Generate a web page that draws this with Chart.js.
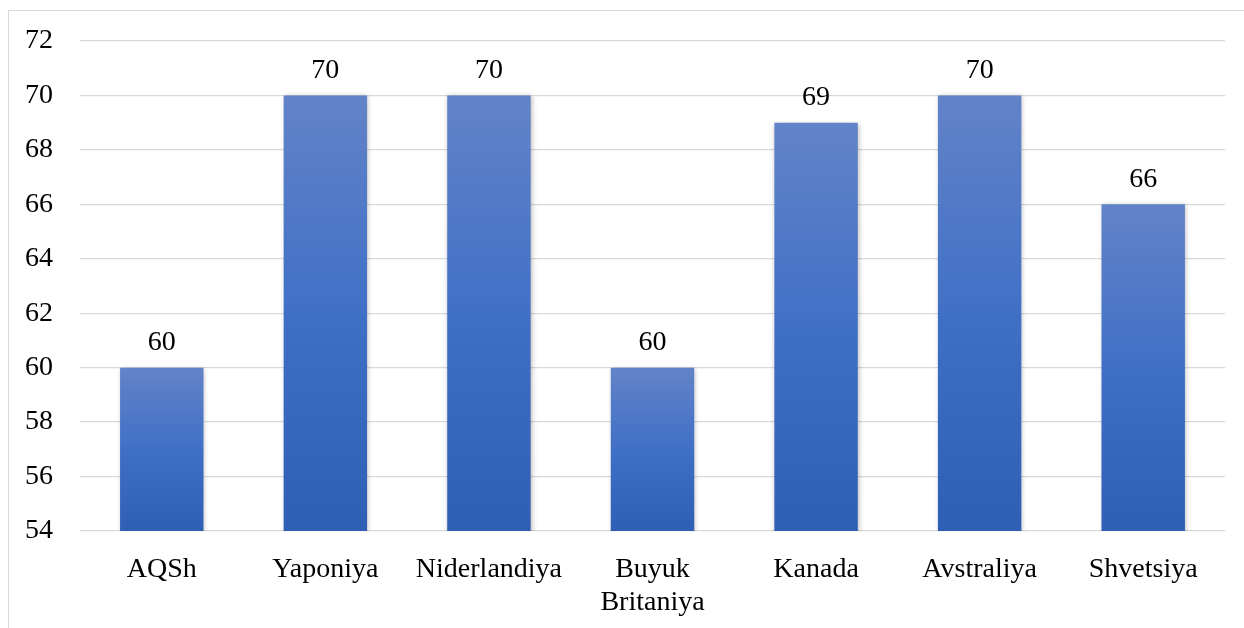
<!DOCTYPE html>
<html>
<head>
<meta charset="utf-8">
<script src="https://cdn.jsdelivr.net/npm/chart.js@4"></script>
<style>
  html, body { margin: 0; padding: 0; background: #fff; overflow: hidden; }
  #wrap { position: relative; width: 1244px; height: 628px; }
  #frame { position: absolute; left: 8px; top: 10px; width: 1300px; height: 700px; border: 1px solid #d9d9d9; }
  canvas { position: absolute; left: 0; top: 0; }
</style>
</head>
<body>
<div id="wrap">
  <div id="frame"></div>
  <canvas id="ch" width="1244" height="628"></canvas>
</div>
<script>
// categories (second line where the label wraps)
const categories = ['AQSh', 'Yaponiya', 'Niderlandiya', ['Buyuk', 'Britaniya'], 'Kanada', 'Avstraliya', 'Shvetsiya'];
const values = [60, 70, 70, 60, 69, 70, 66];
const yMin = 54, yMax = 72, yStep = 2;

const FONT = '"Liberation Serif", "Times New Roman", serif';
const FSIZE = 28;

function barFill(ctx) {
  const chart = ctx.chart;
  const ys = chart.scales.y;
  if (!ys || ctx.raw == null) return '#4472c4';
  const top = ys.getPixelForValue(ctx.raw);
  const bot = ys.getPixelForValue(yMin);
  if (!isFinite(top) || !isFinite(bot) || top === bot) return '#4472c4';
  const g = chart.ctx.createLinearGradient(0, top, 0, bot);
  g.addColorStop(0, '#6283c8');
  g.addColorStop(0.5, '#4070c6');
  g.addColorStop(1, '#2f5eb5');
  return g;
}

// soft shadow under bars
const barShadow = {
  id: 'barShadow',
  beforeDatasetDraw(chart) {
    const c = chart.ctx;
    c.save();
    c.shadowColor = 'rgba(0,0,0,0.28)';
    c.shadowBlur = 5;
    c.shadowOffsetX = 1;
    c.shadowOffsetY = 1;
  },
  afterDatasetDraw(chart) { chart.ctx.restore(); }
};

// value labels above bars
const valueLabels = {
  id: 'valueLabels',
  afterDatasetsDraw(chart) {
    const c = chart.ctx;
    const meta = chart.getDatasetMeta(0);
    c.save();
    c.font = FSIZE + 'px ' + FONT;
    c.fillStyle = '#000';
    c.textAlign = 'center';
    c.textBaseline = 'bottom';
    meta.data.forEach((bar, i) => {
      c.fillText(String(values[i]), bar.x, bar.y - 11);
    });
    c.restore();
  }
};

new Chart(document.getElementById('ch').getContext('2d'), {
  type: 'bar',
  data: {
    labels: categories,
    datasets: [{
      data: values,
      backgroundColor: barFill,
      borderWidth: 0,
      categoryPercentage: 1,
      barPercentage: 0.51
    }]
  },
  options: {
    responsive: false,
    animation: false,
    devicePixelRatio: 1,
    layout: { padding: { left: 8, right: 19, top: 41, bottom: 0 } },
    plugins: { legend: { display: false }, tooltip: { enabled: false } },
    scales: {
      x: {
        grid: { display: false },
        border: { display: false },
        ticks: { font: { family: FONT, size: FSIZE, lineHeight: 1.15 }, color: '#000', padding: 15, maxRotation: 0, autoSkip: false },
        afterFit: s => { s.height = 97; }
      },
      y: {
        min: yMin, max: yMax,
        grid: { color: '#d9d9d9', lineWidth: 1.3, drawTicks: false },
        border: { display: false },
        ticks: { stepSize: yStep, font: { family: FONT, size: FSIZE }, color: '#000', padding: 27 },
        afterFit: s => { s.width = 72; s.paddingTop = 0; s.paddingBottom = 0; }
      }
    }
  },
  plugins: [barShadow, valueLabels]
});
</script>
</body>
</html>
